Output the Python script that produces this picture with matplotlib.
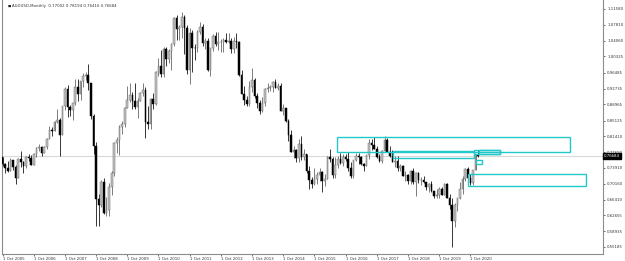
import matplotlib
matplotlib.use("Agg")
import matplotlib.pyplot as plt
from matplotlib.patches import Rectangle

# ---------------- data (AUDUSD monthly, Oct 2005 .. Jan 2021) ----------------
opens = [
    0.7640, 0.7480, 0.7390,
    0.7330, 0.7570, 0.7410, 0.7160, 0.7600, 0.7530, 0.7430, 0.7660, 0.7630, 0.7460, 0.7730, 0.7870,
    0.7890, 0.7740, 0.7880, 0.8080, 0.8290, 0.8270, 0.8480, 0.8530, 0.8180, 0.8860, 0.9270, 0.8830,
    0.8770, 0.8930, 0.9300, 0.9140, 0.9440, 0.9560, 0.9600, 0.9400, 0.8620, 0.7900, 0.6650, 0.6520,
    0.7050, 0.6330, 0.6400, 0.6930, 0.7270, 0.7990, 0.8050, 0.8360, 0.8430, 0.8810, 0.9000, 0.9130,
    0.8980, 0.8840, 0.8970, 0.9170, 0.9240, 0.8490, 0.8440, 0.9030, 0.8900, 0.9670, 0.9810, 0.9620,
    1.0220, 0.9980, 1.0170, 1.0330, 1.0950, 1.0690, 1.0720, 1.0970, 1.0710, 0.9710, 1.0600, 1.0240,
    1.0230, 1.0610, 1.0720, 1.0350, 1.0410, 0.9720, 1.0240, 1.0510, 1.0330, 1.0380, 1.0380, 1.0430,
    1.0380, 1.0410, 1.0210, 1.0410, 1.0370, 0.9600, 0.9140, 0.8990, 0.8910, 0.9310, 0.9470, 0.9100,
    0.8930, 0.8740, 0.8920, 0.9260, 0.9280, 0.9300, 0.9420, 0.9290, 0.9340, 0.8750, 0.8800, 0.8500,
    0.8170, 0.7780, 0.7810, 0.7620, 0.7950, 0.7660, 0.7710, 0.7310, 0.7100, 0.7020, 0.7130, 0.7230,
    0.7290, 0.7080, 0.7140, 0.7660, 0.7610, 0.7230, 0.7450, 0.7600, 0.7520, 0.7650, 0.7600, 0.7380,
    0.7210, 0.7580, 0.7670, 0.7640, 0.7480, 0.7430, 0.7690, 0.7990, 0.7940, 0.7840, 0.7650, 0.7560,
    0.7800, 0.8060, 0.7760, 0.7680, 0.7530, 0.7560, 0.7400, 0.7430, 0.7190, 0.7230, 0.7080, 0.7310,
    0.7050, 0.7270, 0.7100, 0.7100, 0.7050, 0.6940, 0.7020, 0.6840, 0.6730, 0.6750, 0.6890, 0.6760,
    0.7020, 0.6690, 0.6510, 0.6140, 0.6510, 0.6670, 0.6900, 0.7140, 0.7370, 0.7160, 0.7030, 0.7350,
    0.77002,
]
highs = [
    0.7660, 0.7510, 0.7550,
    0.7620, 0.7570, 0.7450, 0.7620, 0.7790, 0.7560, 0.7680, 0.7720, 0.7690, 0.7740, 0.7890, 0.7950,
    0.7910, 0.7920, 0.8090, 0.8380, 0.8350, 0.8500, 0.8790, 0.8570, 0.8870, 0.9320, 0.9350, 0.8880,
    0.8930, 0.9500, 0.9500, 0.9460, 0.9650, 0.9660, 0.9850, 0.9400, 0.8670, 0.8000, 0.6780, 0.7100,
    0.7160, 0.6710, 0.7040, 0.7330, 0.8000, 0.8120, 0.8400, 0.8500, 0.8830, 0.9330, 0.9400, 0.9190,
    0.9400, 0.9060, 0.9200, 0.9410, 0.9310, 0.8860, 0.9040, 0.9170, 0.9700, 1.0000, 1.0180, 1.0260,
    1.0250, 1.0220, 1.0350, 1.0960, 1.1010, 1.0780, 1.1080, 1.1010, 1.0770, 1.0700, 1.0650, 1.0320,
    1.0660, 1.0860, 1.0800, 1.0480, 1.0470, 1.0240, 1.0560, 1.0620, 1.0620, 1.0450, 1.0470, 1.0590,
    1.0600, 1.0470, 1.0500, 1.0590, 1.0400, 0.9710, 0.9330, 0.9090, 0.9460, 0.9760, 0.9530, 0.9170,
    0.9000, 0.9080, 0.9280, 0.9400, 0.9360, 0.9450, 0.9500, 0.9400, 0.9400, 0.8900, 0.8800, 0.8540,
    0.8290, 0.7910, 0.7840, 0.8080, 0.8160, 0.7850, 0.7730, 0.7440, 0.7170, 0.7380, 0.7290, 0.7380,
    0.7320, 0.7240, 0.7680, 0.7840, 0.7640, 0.7650, 0.7680, 0.7740, 0.7730, 0.7730, 0.7780, 0.7530,
    0.7590, 0.7740, 0.7750, 0.7680, 0.7520, 0.7700, 0.8070, 0.8070, 0.8130, 0.7900, 0.7730, 0.7810,
    0.8140, 0.8090, 0.7920, 0.7810, 0.7680, 0.7680, 0.7480, 0.7450, 0.7310, 0.7240, 0.7340, 0.7390,
    0.7290, 0.7290, 0.7170, 0.7210, 0.7070, 0.7040, 0.7080, 0.6850, 0.6900, 0.6930, 0.6930, 0.7030,
    0.7030, 0.6770, 0.6690, 0.6570, 0.6680, 0.7060, 0.7190, 0.7380, 0.7410, 0.7240, 0.7340, 0.7710,
    0.78194,
]
lows = [
    0.7440, 0.7280, 0.7290,
    0.7310, 0.7350, 0.7020, 0.7150, 0.7420, 0.7280, 0.7400, 0.7550, 0.7450, 0.7450, 0.7650, 0.7790,
    0.7670, 0.7740, 0.7830, 0.8070, 0.8150, 0.8270, 0.8450, 0.7680, 0.8170, 0.8770, 0.8600, 0.8620,
    0.8520, 0.8880, 0.8970, 0.9000, 0.9300, 0.9480, 0.9240, 0.8550, 0.7720, 0.6010, 0.6010, 0.6460,
    0.6290, 0.6250, 0.6250, 0.6760, 0.7200, 0.7740, 0.7700, 0.8190, 0.8350, 0.8810, 0.8960, 0.8790,
    0.8790, 0.8580, 0.8970, 0.9100, 0.8090, 0.8320, 0.8320, 0.8780, 0.8880, 0.9560, 0.9540, 0.9540,
    0.9800, 0.9880, 0.9710, 1.0290, 1.0430, 1.0430, 1.0470, 1.0100, 0.9620, 0.9390, 0.9660, 0.9950,
    1.0150, 1.0560, 1.0280, 1.0220, 0.9690, 0.9580, 1.0160, 1.0270, 1.0190, 1.0150, 1.0150, 1.0350,
    1.0350, 1.0110, 1.0120, 1.0230, 0.9580, 0.9140, 0.8890, 0.8850, 0.8850, 0.9200, 0.9060, 0.8820,
    0.8660, 0.8720, 0.8850, 0.9200, 0.9210, 0.9200, 0.9280, 0.9240, 0.8740, 0.8640, 0.8490, 0.8030,
    0.7760, 0.7630, 0.7530, 0.7530, 0.7580, 0.7590, 0.7260, 0.6900, 0.6910, 0.6980, 0.7020, 0.7080,
    0.6830, 0.6970, 0.7130, 0.7540, 0.7150, 0.7150, 0.7380, 0.7480, 0.7440, 0.7550, 0.7310, 0.7160,
    0.7160, 0.7560, 0.7490, 0.7470, 0.7330, 0.7430, 0.7600, 0.7810, 0.7830, 0.7630, 0.7530, 0.7500,
    0.7800, 0.7760, 0.7640, 0.7530, 0.7410, 0.7310, 0.7310, 0.7200, 0.7090, 0.7020, 0.7020, 0.7020,
    0.6720, 0.7030, 0.6990, 0.7030, 0.6860, 0.6830, 0.6830, 0.6680, 0.6680, 0.6670, 0.6750, 0.6760,
    0.6680, 0.6430, 0.5510, 0.5980, 0.6370, 0.6650, 0.6780, 0.7080, 0.7000, 0.6990, 0.6990, 0.7340,
    0.76416,
]
closes = [
    0.7480, 0.7390, 0.7330,
    0.7570, 0.7410, 0.7160, 0.7600, 0.7530, 0.7430, 0.7660, 0.7630, 0.7460, 0.7730, 0.7870, 0.7890,
    0.7740, 0.7880, 0.8080, 0.8290, 0.8270, 0.8480, 0.8530, 0.8180, 0.8860, 0.9270, 0.8830, 0.8770,
    0.8930, 0.9300, 0.9140, 0.9440, 0.9560, 0.9600, 0.9400, 0.8620, 0.7900, 0.6650, 0.6520, 0.7050,
    0.6330, 0.6400, 0.6930, 0.7270, 0.7990, 0.8050, 0.8360, 0.8430, 0.8810, 0.9000, 0.9130, 0.8980,
    0.8840, 0.8970, 0.9170, 0.9240, 0.8490, 0.8440, 0.9030, 0.8900, 0.9670, 0.9810, 0.9620, 1.0220,
    0.9980, 1.0170, 1.0330, 1.0950, 1.0690, 1.0720, 1.0970, 1.0710, 0.9710, 1.0600, 1.0240, 1.0230,
    1.0610, 1.0720, 1.0350, 1.0410, 0.9720, 1.0240, 1.0510, 1.0330, 1.0380, 1.0380, 1.0430, 1.0380,
    1.0410, 1.0210, 1.0410, 1.0370, 0.9600, 0.9140, 0.8990, 0.8910, 0.9310, 0.9470, 0.9100, 0.8930,
    0.8740, 0.8920, 0.9260, 0.9280, 0.9300, 0.9420, 0.9290, 0.9340, 0.8750, 0.8800, 0.8500, 0.8170,
    0.7780, 0.7810, 0.7620, 0.7950, 0.7660, 0.7710, 0.7310, 0.7100, 0.7020, 0.7130, 0.7230, 0.7290,
    0.7080, 0.7140, 0.7660, 0.7610, 0.7230, 0.7450, 0.7600, 0.7520, 0.7650, 0.7600, 0.7380, 0.7210,
    0.7580, 0.7670, 0.7640, 0.7480, 0.7430, 0.7690, 0.7990, 0.7940, 0.7840, 0.7650, 0.7560, 0.7800,
    0.8060, 0.7760, 0.7680, 0.7530, 0.7560, 0.7400, 0.7430, 0.7190, 0.7230, 0.7080, 0.7310, 0.7050,
    0.7270, 0.7100, 0.7100, 0.7050, 0.6940, 0.7020, 0.6840, 0.6730, 0.6750, 0.6890, 0.6760, 0.7020,
    0.6690, 0.6510, 0.6140, 0.6510, 0.6670, 0.6900, 0.7140, 0.7370, 0.7160, 0.7030, 0.7350, 0.7700,
    0.76684,
]

title_text = "AUDUSD,Monthly  0.77002 0.78194 0.76416 0.76684"
current_price = 0.76684
current_label = "0.76684"

date_labels = ["1 Oct 2005", "1 Oct 2006", "1 Oct 2007", "1 Oct 2008", "1 Oct 2009",
               "1 Oct 2010", "1 Oct 2011", "1 Oct 2012", "1 Oct 2013", "1 Oct 2014",
               "1 Oct 2015", "1 Oct 2016", "1 Oct 2017", "1 Oct 2018", "1 Oct 2019",
               "1 Oct 2020"]
date_months = [0, 12, 24, 36, 48, 60, 72, 84, 96, 108, 120, 132, 144, 156, 168, 180]

price_labels = ["1.11580", "1.07810", "1.04060", "1.00325", "0.96485", "0.92735",
                "0.88965", "0.85125", "0.81410", "0.77690", "0.73910", "0.70160",
                "0.66410", "0.62655", "0.58935", "0.55185"]

# zones: (start month, end month, low price, high price)
zones = [
    (128.5, 218.3, 0.7769, 0.8118),
    (150.1, 181.3, 0.7620, 0.7786),
    (181.3, 191.2, 0.7722, 0.7817),
    (183.2, 191.2, 0.7722, 0.7817),
    (182.2, 184.5, 0.7478, 0.7573),
    (179.2, 224.3, 0.6964, 0.7241),
]

# ---------------- figure ----------------
W, H = 625, 261
fig = plt.figure(figsize=(W / 100, H / 100), dpi=100)
fig.patch.set_facecolor("white")
ax = fig.add_axes([2 / W, 7 / H, 601 / W, 254 / H])
ax.set_facecolor("white")
ax.set_xlim(-0.2, 231.0)
ax.set_ylim(0.5352, 1.1371)

# current price line
ax.axhline(current_price, color="#d9d9d9", lw=0.8, zorder=1)

# candles
bw = 0.62
for i, (o, h, l, c) in enumerate(zip(opens, highs, lows, closes)):
    bull = c >= o
    wick_col = "#5a5a5a" if bull else "#000000"
    ax.vlines(i, l, h, color=wick_col, lw=0.55, zorder=2)
    lo, hi = min(o, c), max(o, c)
    ht = max(hi - lo, 0.0006)
    if bull:
        ax.add_patch(Rectangle((i - bw / 2, lo), bw, ht, facecolor="#c4c4c4",
                               edgecolor="#6a6a6a", lw=0.35, zorder=3))
    else:
        ax.add_patch(Rectangle((i - bw / 2, lo), bw, ht, facecolor="#000000",
                               edgecolor="#000000", lw=0.35, zorder=3))

# zones
for (x0, x1, y0, y1) in zones:
    ax.add_patch(Rectangle((x0, y0), x1 - x0, y1 - y0, fill=False,
                           edgecolor="#22c7c9", lw=1.0, zorder=4))

# axes styling
ax.spines["top"].set_visible(False)
for s in ["left", "right", "bottom"]:
    ax.spines[s].set_color("#8c8c8c")
    ax.spines[s].set_linewidth(0.8)

ax.yaxis.tick_right()
ax.set_yticks([float(p) for p in price_labels])
ax.set_yticklabels(price_labels)
ax.tick_params(axis="y", direction="out", length=1.5, width=0.5, pad=1.5,
               labelsize=2.8, colors="#333333")
ax.set_xticks(date_months)
ax.set_xticklabels(date_labels, ha="left")
ax.tick_params(axis="x", direction="out", length=1.5, width=0.5, pad=0.8,
               labelsize=2.8, colors="#333333")

# current price tag on the axis
ax.text(1.002, current_price, current_label, transform=ax.get_yaxis_transform(),
        ha="left", va="center", fontsize=2.8, color="white",
        bbox=dict(boxstyle="square,pad=0.25", facecolor="black", edgecolor="black"),
        zorder=10, clip_on=False)

# title
ax.text(0.009, 0.985, "\u25a0", transform=ax.transAxes, ha="left", va="top",
        fontsize=2.5, color="#222222")
ax.text(0.0165, 0.985, title_text, transform=ax.transAxes, ha="left", va="top",
        fontsize=2.8, color="#333333")

fig.savefig("out.png", dpi=100, facecolor="white")
